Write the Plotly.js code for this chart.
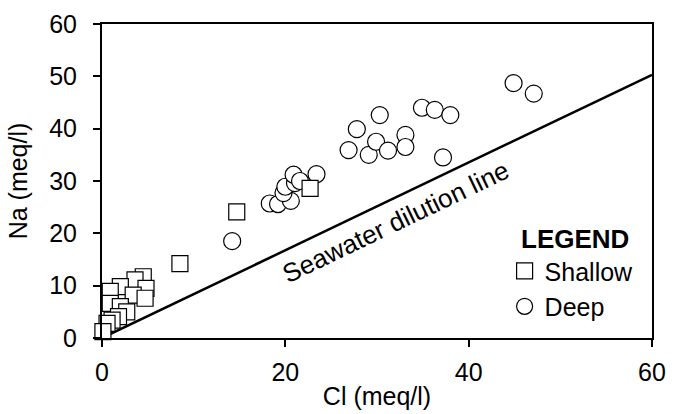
<!DOCTYPE html>
<html><head>
<meta charset="utf-8">
<script src="https://cdn.plot.ly/plotly-3.0.1.min.js"></script>
<style>body{margin:0;background:#fff}</style>
</head><body>
<div id="chart" style="width:680px;height:414px"></div>
<script>
const shallowCl = [22.7, 14.7, 8.5, 4.5, 3.6, 2.0, 4.8, 0.9, 3.4, 4.7, 0.9, 2.0, 2.7, 1.8, 1.1, 0.55, 0.1];
const shallowNa = [28.6, 24.1, 14.2, 11.7, 11.1, 9.8, 9.5, 8.9, 8.2, 7.6, 6.6, 6.0, 5.0, 4.1, 3.4, 2.8, 1.2];
const deepCl = [14.2, 18.3, 19.2, 20.6, 19.8, 20.0, 21.05, 20.9, 21.6, 23.4, 26.9, 27.8, 30.3, 29.1, 29.9, 31.2, 33.1, 33.1, 34.9, 36.3, 38.0, 37.2, 44.9, 47.1];
const deepNa = [18.5, 25.7, 25.6, 26.2, 27.7, 28.9, 29.6, 31.2, 30.0, 31.3, 35.9, 39.9, 42.6, 35.0, 37.5, 35.8, 38.8, 36.5, 44.0, 43.6, 42.6, 34.5, 48.7, 46.7];
const dilutionCl = [0, 60];
const dilutionNa = [0, 50.3];
const seriesNames = ['Shallow', 'Deep'];
const lineLabel = 'Seawater dilution line';

const font = 'Liberation Sans, Arial, sans-serif';
const fs = 25;
const traces = [
  {x: dilutionCl, y: dilutionNa, mode: 'lines', line: {color: '#000', width: 2.5}, showlegend: false, hoverinfo: 'skip'},
  {x: deepCl, y: deepNa, mode: 'markers', name: seriesNames[1], legendrank: 2, cliponaxis: false,
   marker: {symbol: 'circle', size: 17, color: '#fff', line: {color: '#000', width: 1.2}}},
  {x: shallowCl, y: shallowNa, mode: 'markers', name: seriesNames[0], legendrank: 1, cliponaxis: false,
   marker: {symbol: 'square', size: 16, color: '#fff', line: {color: '#000', width: 1.2}}}
];
const axisCommon = {showline: true, linewidth: 2, linecolor: '#000', mirror: true, ticks: 'outside',
  ticklen: 7, tickwidth: 2, tickcolor: '#000', showgrid: false, zeroline: false,
  tickfont: {family: font, size: fs, color: '#000'}};
const layout = {
  width: 680, height: 414,
  margin: {l: 102, r: 28, t: 24, b: 76},
  paper_bgcolor: '#fff', plot_bgcolor: '#fff',
  font: {family: font, color: '#000'},
  xaxis: Object.assign({}, axisCommon, {range: [0, 60], dtick: 20, ticklabelstandoff: 4,
    title: {text: 'Cl (meq/l)', font: {family: font, size: fs}, standoff: 2}}),
  yaxis: Object.assign({}, axisCommon, {range: [0, 60], dtick: 10, ticklabelstandoff: 11,
    title: {text: 'Na (meq/l)', font: {family: font, size: fs}, standoff: 14}}),
  legend: {x: 0.732, y: 0.394, xanchor: 'left', yanchor: 'top', bgcolor: 'rgba(0,0,0,0)',
    font: {family: font, size: fs}, title: {text: '&nbsp;&nbsp;<b>LEGEND</b>', font: {family: font, size: 26}},
    itemwidth: 30},
  annotations: [{x: 32, y: 22.2, xref: 'x', yref: 'y', text: lineLabel, showarrow: false,
    textangle: -25.6, font: {family: font, size: 26, color: '#000'}}],
  showlegend: true
};
Plotly.newPlot('chart', traces, layout, {displayModeBar: false, staticPlot: true});
</script>
</body></html>
